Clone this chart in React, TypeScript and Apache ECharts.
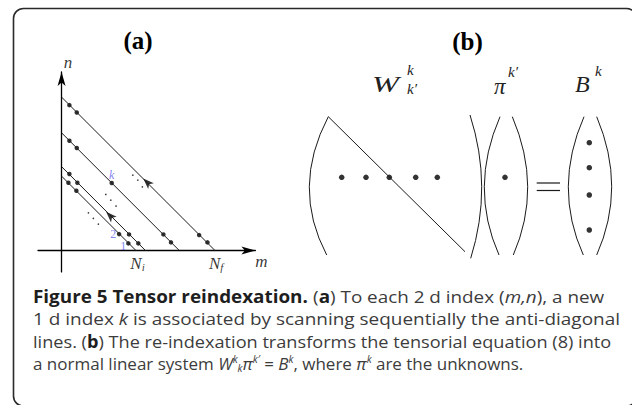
import React, { useEffect, useRef } from 'react';
import * as echarts from 'echarts';

// ---------- Panel (a): lattice in (m, n) units ----------
// anti-diagonal lines m + n = c
const diagonalSums = [9.8, 11.05, 15.5, 20.2];
// lattice points drawn on the diagonals
const latticeDots: number[][] = [
  [1.03, 19.14], [2.0, 18.18], [18.1, 2.04], [19.2, 1.08],
  [1.03, 14.45], [2.0, 13.5], [6.6, 8.9], [13.4, 2.13], [14.4, 1.08],
  [1.03, 10.07], [2.08, 8.92], [8.88, 2.13], [10.1, 0.95],
  [0.9, 8.92], [1.95, 7.87], [7.57, 2.17], [8.79, 0.95],
];
// small "..." dots
const ellipsisDots: number[][] = [
  [9.37, 9.93], [10.03, 9.28], [10.63, 8.39],
  [5.82, 7.39], [6.47, 6.64], [7.17, 5.86],
  [3.53, 4.97], [4.18, 4.24], [4.84, 3.49],
];
// scanning-direction arrows
const scanArrows: number[][] = [[10.75, 9.5], [5.86, 5.1]];
// blue index labels
const indexLabels = [
  { name: 'k', value: [6.6, 10.0], italic: true },
  { name: '2', value: [6.8, 2.13], italic: false },
  { name: '1', value: [8.13, 0.63], italic: false },
];
// axis annotations
const axisNotes = [
  { name: '{it|n}', value: [0.86, 24.8] },
  { name: '{it|m}', value: [26.3, -1.45] },
  { name: '{it|N}{sub|i}', value: [10.0, -1.75] },
  { name: '{it|N}{sub|f}', value: [20.33, -1.75] },
];

// ---------- Panel (b): matrix equation (panel units) ----------
// parentheses: [topX, topY, midX, midY, bottomX, bottomY]
const matrixParens: number[][] = [
  [28.3, 116.7, 9.3, 186.7, 26.7, 255],
  [170, 115, 181.7, 186.7, 170.7, 258.3],
  [200, 116.7, 184.3, 186.7, 199, 255],
  [212.3, 116.7, 227.7, 186.7, 213.3, 255],
  [284, 116.7, 268.3, 186.7, 283.3, 255],
  [296.7, 116.7, 311.7, 186.7, 296.7, 255],
];
const matrixDiagonal: number[][] = [[28.3, 116.7], [165, 251.7]];
const rowDots: number[][] = [[41.7, 177.3], [66, 177.3], [89.3, 177.3], [115.7, 177.3], [137.3, 177.3]];
const piDots: number[][] = [[205, 177.3]];
const bDots: number[][] = [[289.3, 142.7], [289.3, 167.7], [289.3, 195], [289.3, 230]];
const equalsTop: number[][] = [[236.7, 183], [260, 183]];
const equalsBottom: number[][] = [[236.7, 190.5], [260, 190.5]];

// caption lines
const captionLines = [
  '{b|Figure 5 Tensor reindexation.} ({b|a}) To each 2 d index ({i|m,n}), a new',
  '1 d index {i|k} is associated by scanning sequentially the anti-diagonal',
  'lines. ({b|b}) The re-indexation transforms the tensorial equation (8) into',
  'a normal linear system {mi|W}{sup|k}{sub|k}{mi|π}{sup|k′} = {mi|B}{sup|k}, where {mi|π}{sup|k} are the unknowns.',
];

const ink = '#1a1a1a';
const blue = '#6464f0';
const serif = '"Liberation Serif", "DejaVu Serif", serif';
const sans = '"Open Sans", Lato, sans-serif';
const capColor = '#3c3c3c';

function buildOption() {
  const axisLineA = {
    show: true,
    onZero: true,
    symbol: ['none', 'arrow'],
    symbolSize: [6, 14],
    lineStyle: { color: '#000', width: 1.3 },
  };
  const series: any[] = [];
  diagonalSums.forEach((c) => {
    series.push({
      type: 'line', xAxisIndex: 0, yAxisIndex: 0, silent: true,
      data: [[0, c], [c, 0]], symbol: 'none',
      lineStyle: { color: ink, width: 1 },
    });
  });
  series.push({
    type: 'scatter', xAxisIndex: 0, yAxisIndex: 0, silent: true, clip: false,
    data: latticeDots, symbolSize: 4.5, itemStyle: { color: '#000' },
  });
  series.push({
    type: 'scatter', xAxisIndex: 0, yAxisIndex: 0, silent: true, clip: false,
    data: ellipsisDots, symbolSize: 1.6, itemStyle: { color: '#000' },
  });
  series.push({
    type: 'scatter', xAxisIndex: 0, yAxisIndex: 0, silent: true, clip: false,
    data: scanArrows, symbol: 'arrow', symbolSize: [6, 11], symbolRotate: 45,
    itemStyle: { color: '#000' },
  });
  series.push({
    type: 'scatter', xAxisIndex: 0, yAxisIndex: 0, silent: true, clip: false,
    symbolSize: 0,
    data: indexLabels.map((d) => ({
      name: d.name, value: d.value,
      label: { fontStyle: d.italic ? 'italic' : 'normal' },
    })),
    label: {
      show: true, position: 'inside', formatter: '{b}', color: blue,
      fontFamily: serif, fontSize: 12,
    },
  });
  series.push({
    type: 'scatter', xAxisIndex: 0, yAxisIndex: 0, silent: true, clip: false,
    symbolSize: 0,
    data: axisNotes.map((d) => ({ name: d.name, value: d.value })),
    label: {
      show: true, position: 'inside', formatter: '{b}', color: '#000',
      rich: {
        it: { fontFamily: serif, fontStyle: 'italic', fontSize: 17, color: '#000' },
        sub: { fontFamily: serif, fontStyle: 'italic', fontSize: 11, color: '#000', verticalAlign: 'bottom', padding: [6, 0, 0, 0] },
      },
    },
  });

  // panel (b)
  series.push({
    type: 'custom', xAxisIndex: 1, yAxisIndex: 1, silent: true,
    data: matrixParens,
    renderItem: (_params: any, api: any) => {
      const p0 = api.coord([api.value(0), api.value(1)]);
      const pm = api.coord([api.value(2), api.value(3)]);
      const p2 = api.coord([api.value(4), api.value(5)]);
      const cx = 2 * pm[0] - (p0[0] + p2[0]) / 2;
      const cy = 2 * pm[1] - (p0[1] + p2[1]) / 2;
      return {
        type: 'bezierCurve',
        shape: { x1: p0[0], y1: p0[1], x2: p2[0], y2: p2[1], cpx1: cx, cpy1: cy },
        style: { stroke: ink, lineWidth: 1, fill: 'none' },
      };
    },
  });
  series.push({
    type: 'line', xAxisIndex: 1, yAxisIndex: 1, silent: true,
    data: matrixDiagonal, symbol: 'none', lineStyle: { color: ink, width: 1 },
  });
  [equalsTop, equalsBottom].forEach((d) => {
    series.push({
      type: 'line', xAxisIndex: 1, yAxisIndex: 1, silent: true,
      data: d, symbol: 'none', lineStyle: { color: ink, width: 1.2 },
    });
  });
  series.push({
    type: 'scatter', xAxisIndex: 1, yAxisIndex: 1, silent: true,
    data: [...rowDots, ...piDots, ...bDots], symbolSize: 5.5,
    itemStyle: { color: '#000' },
  });

  const mathIt = (text: string, x: number, y: number, size: number, sx = 1) => ({
    type: 'text', x, y, scaleX: sx,
    style: { text, fontFamily: serif, fontStyle: 'italic', fontSize: size, fill: '#222', verticalAlign: 'middle', align: 'left' },
  });

  const capRich = {
    b: { fontFamily: sans, fontWeight: 'bold', fontSize: 17, fill: '#1e1e1e', lineHeight: 19 },
    i: { fontFamily: sans, fontStyle: 'italic', fontSize: 17, fill: capColor, lineHeight: 19 },
    mi: { fontFamily: sans, fontStyle: 'italic', fontSize: 17, fill: capColor, lineHeight: 19 },
    sup: { fontFamily: sans, fontStyle: 'italic', fontSize: 10, fill: capColor, verticalAlign: 'top', lineHeight: 19 },
    sub: { fontFamily: sans, fontStyle: 'italic', fontSize: 10, fill: capColor, verticalAlign: 'bottom', lineHeight: 19 },
  };
  const lineY = [296, 318.5, 341, 363];
  const lineScale = [1.11, 1.115, 1.068, 1.0];
  const capLine = (text: string, i: number) => ({
    type: 'text', x: 33, y: lineY[i], scaleX: lineScale[i],
    style: {
      text, fontFamily: sans, fontSize: 17, fill: capColor,
      verticalAlign: 'middle', align: 'left', lineHeight: 19, rich: capRich,
    },
  });

  const graphic: any[] = [
    {
      type: 'rect', silent: true,
      shape: { x: 13.5, y: 8.5, width: 623, height: 397.5, r: 10 },
      style: { fill: 'none', stroke: '#2a2a2a', lineWidth: 1.6 },
    },
    { type: 'text', x: 138, y: 40, style: { text: '(a)', fontFamily: serif, fontWeight: 'bold', fontSize: 25, fill: '#000', align: 'center', verticalAlign: 'middle' } },
    { type: 'text', x: 467.5, y: 41, style: { text: '(b)', fontFamily: serif, fontWeight: 'bold', fontSize: 25, fill: '#000', align: 'center', verticalAlign: 'middle' } },
    mathIt('W', 372, 84, 24, 1.35),
    mathIt('k', 407, 70, 15),
    mathIt('k′', 407, 89, 15),
    mathIt('π', 494, 86, 23),
    mathIt('k′', 508, 72, 15),
    mathIt('B', 575, 84, 24),
    mathIt('k', 595, 71, 15),
    ...captionLines.map((t, i) => capLine(t, i)),
  ];

  return {
    animation: false,
    backgroundColor: '#fff',
    grid: [
      { left: 38, top: 72, width: 217.36, height: 199.88 },
      { left: 300, top: 0, width: 332, height: 290 },
    ],
    xAxis: [
      { gridIndex: 0, type: 'value', min: -3.1, max: 25.5, axisLine: axisLineA, axisTick: { show: false }, axisLabel: { show: false }, splitLine: { show: false } },
      { gridIndex: 1, type: 'value', min: 0, max: 332, show: false },
    ],
    yAxis: [
      { gridIndex: 0, type: 'value', min: -2.8, max: 23.5, axisLine: axisLineA, axisTick: { show: false }, axisLabel: { show: false }, splitLine: { show: false } },
      { gridIndex: 1, type: 'value', min: 0, max: 290, inverse: true, show: false },
    ],
    series,
    graphic,
  };
}

export default function App() {
  const ref = useRef<HTMLDivElement>(null);
  useEffect(() => {
    document.body.style.margin = '0';
    const chart = echarts.init(ref.current as HTMLDivElement, null, { renderer: 'svg' });
    chart.setOption(buildOption() as any);
    return () => chart.dispose();
  }, []);
  return <div ref={ref} style={{ width: 632, height: 405 }} />;
}
